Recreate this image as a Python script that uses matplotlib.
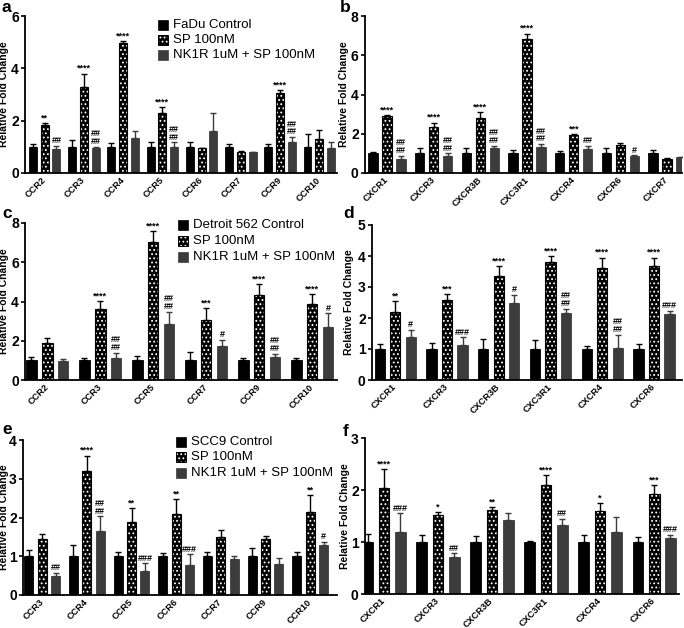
import matplotlib
matplotlib.use("Agg")
import matplotlib.pyplot as plt
import numpy as np

plt.rcParams['font.family'] = ['Liberation Sans', 'DejaVu Sans']
plt.rcParams['font.weight'] = 'bold'
plt.rcParams['hatch.linewidth'] = 0.8

# ---------------- data ----------------
a_cats = ["CCR2", "CCR3", "CCR4", "CCR5", "CCR6", "CCR7", "CCR9", "CCR10"]
a_ctrl = [1.0, 1.0, 1.0, 1.0, 1.0, 1.0, 1.0, 1.0]
a_ctrl_err = [0.10, 0.25, 0.15, 0.17, 0.20, 0.10, 0.12, 0.50]
a_sp = [1.85, 3.30, 4.95, 2.28, 0.95, 0.82, 3.05, 1.30]
a_sp_err = [0.05, 0.50, 0.10, 0.24, 0.02, 0.02, 0.13, 0.35]
a_nk = [0.92, 0.95, 1.35, 1.00, 1.62, 0.80, 1.20, 0.97]
a_nk_err = [0.13, 0.05, 0.27, 0.17, 0.68, 0.01, 0.17, 0.23]
a_sp_sig = ["**", "****", "****", "****", "", "", "****", ""]
a_nk_sig = ["##", "##\n##", "", "##\n##", "", "", "##\n##", ""]

b_cats = ["CXCR1", "CXCR3", "CXCR3B", "CXC3R1", "CXCR4", "CXCR6", "CXCR7"]
b_ctrl = [1.0, 1.0, 1.0, 1.0, 1.0, 1.0, 1.0]
b_ctrl_err = [0.05, 0.28, 0.28, 0.17, 0.10, 0.27, 0.17]
b_sp = [2.88, 2.33, 2.80, 6.85, 1.92, 1.45, 0.73]
b_sp_err = [0.07, 0.24, 0.30, 0.25, 0.05, 0.08, 0.05]
b_nk = [0.70, 0.85, 1.25, 1.30, 1.20, 0.85, 0.82]
b_nk_err = [0.18, 0.15, 0.13, 0.17, 0.18, 0.05, 0.01]
b_sp_sig = ["****", "****", "****", "****", "***", "", ""]
b_nk_sig = ["##\n##", "##\n##", "##\n##", "##\n##", "##", "#", ""]

c_cats = ["CCR2", "CCR3", "CCR5", "CCR7", "CCR9", "CCR10"]
c_ctrl = [1.0, 1.0, 1.0, 1.0, 1.0, 1.0]
c_ctrl_err = [0.17, 0.10, 0.20, 0.42, 0.12, 0.10]
c_sp = [1.88, 3.60, 7.02, 3.07, 4.35, 3.87]
c_sp_err = [0.24, 0.43, 0.58, 0.58, 0.53, 0.51]
c_nk = [0.95, 1.12, 2.85, 1.75, 1.15, 2.72]
c_nk_err = [0.10, 0.25, 0.63, 0.30, 0.20, 0.68]
c_sp_sig = ["", "****", "****", "***", "****", "****"]
c_nk_sig = ["", "##\n##", "##\n##", "#", "##\n##", "#"]

d_cats = ["CXCR1", "CXCR3", "CXCR3B", "CXC3R1", "CXCR4", "CXCR6"]
d_ctrl = [1.0, 1.0, 1.0, 1.0, 1.0, 1.0]
d_ctrl_err = [0.17, 0.18, 0.33, 0.28, 0.10, 0.17]
d_sp = [2.20, 2.58, 3.37, 3.82, 3.62, 3.68]
d_sp_err = [0.35, 0.19, 0.30, 0.18, 0.33, 0.27]
d_nk = [1.38, 1.12, 2.48, 2.17, 1.03, 2.12]
d_nk_err = [0.24, 0.26, 0.27, 0.13, 0.42, 0.10]
d_sp_sig = ["**", "***", "****", "****", "****", "****"]
d_nk_sig = ["#", "###", "#", "##\n##", "##\n##", "###"]

e_cats = ["CCR3", "CCR4", "CCR5", "CCR6", "CCR7", "CCR9", "CCR10"]
e_ctrl = [1.0, 1.0, 1.0, 1.0, 1.0, 1.0, 1.0]
e_ctrl_err = [0.15, 0.28, 0.10, 0.08, 0.10, 0.22, 0.12]
e_sp = [1.45, 3.20, 1.88, 2.10, 1.50, 1.45, 2.13]
e_sp_err = [0.12, 0.40, 0.37, 0.38, 0.17, 0.07, 0.44]
e_nk = [0.50, 1.65, 0.63, 0.78, 0.92, 0.80, 1.28]
e_nk_err = [0.08, 0.38, 0.19, 0.27, 0.08, 0.15, 0.09]
e_sp_sig = ["", "****", "**", "**", "", "", "**"]
e_nk_sig = ["##", "##\n##", "###", "###", "", "", "#"]

f_cats = ["CXCR1", "CXCR3", "CXCR3B", "CXC3R1", "CXCR4", "CXCR6"]
f_ctrl = [1.0, 1.0, 1.0, 1.0, 1.0, 1.0]
f_ctrl_err = [0.15, 0.13, 0.12, 0.02, 0.13, 0.10]
f_sp = [2.03, 1.52, 1.62, 2.10, 1.60, 1.93]
f_sp_err = [0.37, 0.05, 0.05, 0.18, 0.15, 0.17]
f_nk = [1.20, 0.72, 1.43, 1.33, 1.20, 1.08]
f_nk_err = [0.35, 0.06, 0.12, 0.12, 0.28, 0.06]
f_sp_sig = ["****", "*", "**", "****", "*", "***"]
f_nk_sig = ["###", "##", "", "##", "", "###"]

legend_a = ["FaDu Control", "SP 100nM", "NK1R 1uM + SP 100nM"]
legend_c = ["Detroit 562 Control", "SP 100nM", "NK1R 1uM + SP 100nM"]
legend_e = ["SCC9 Control", "SP 100nM", "NK1R 1uM + SP 100nM"]

W, H = 684, 628
fig = plt.figure(figsize=(W / 100, H / 100), dpi=100)


def ax_at(l, r, t, b):
    return fig.add_axes([l / W, 1 - b / H, (r - l) / W, (b - t) / H])


NK_COLOR = "#3c3c3c"
HATCH = "...."


def panel(ax, cats, ctrl, ce, sp, se, nk, ne, ssig, nsig, ymax, ystep, xlim, label_px, axis_left, axis_w):
    n = len(cats)
    x = np.arange(n)
    w = 0.2
    off = 0.3
    ax.bar(x - off, ctrl, w, color="black", edgecolor="black", linewidth=0.6, zorder=2)
    ax.bar(x, sp, w, color="black", edgecolor="white", hatch=HATCH, linewidth=0, zorder=2)
    ax.bar(x, sp, w, fill=False, edgecolor="black", linewidth=0.8, zorder=3)
    ax.bar(x + off, nk, w, color=NK_COLOR, edgecolor=NK_COLOR, linewidth=0.6, zorder=2)
    for xs, ys, es, col in [(x - off, ctrl, ce, "black"), (x, sp, se, "black"), (x + off, nk, ne, NK_COLOR)]:
        ax.errorbar(xs, ys, yerr=[np.zeros(n), es], fmt="none", ecolor=col,
                    elinewidth=1.0, capsize=2.2, capthick=1.0, zorder=1)
    for i in range(n):
        if ssig[i]:
            ax.annotate(ssig[i], (x[i], sp[i] + se[i]), xytext=(0, 0.5), textcoords="offset points",
                        ha="center", va="bottom", fontsize=6.5, fontweight="bold")
        if nsig[i]:
            ax.annotate(nsig[i], (x[i] + off, nk[i] + ne[i]), xytext=(0, 0.5), textcoords="offset points",
                        ha="center", va="bottom", fontsize=6.5, fontweight="bold", linespacing=0.85)
    ax.set_xlim(*xlim)
    ax.set_ylim(0, ymax)
    ticks = np.arange(0, ymax + 0.01, ystep)
    ax.set_yticks(ticks)
    ax.set_yticklabels([str(int(v)) for v in ticks], fontsize=10, fontweight="bold")
    ax.set_xticks(x)
    ax.set_xticklabels(cats, rotation=45, ha="right", va="center", rotation_mode="anchor",
                       fontsize=6.6, fontweight="bold")
    ax.tick_params(axis="x", length=0, pad=4)
    ax.tick_params(axis="y", length=3, width=1.2, pad=1.5)
    for s in ["top", "right"]:
        ax.spines[s].set_visible(False)
    for s in ["left", "bottom"]:
        ax.spines[s].set_linewidth(1.3)
    ax.set_ylabel("Relative Fold Change", fontsize=7.5, fontweight="bold")
    ax.yaxis.set_label_coords((label_px - axis_left) / axis_w, 0.5)


def legend(labels, x0, ys):
    sq = 10
    for lab, y, kind in zip(labels, ys, ["ctrl", "sp", "nk"]):
        xy = (x0 / W, 1 - (y + sq / 2) / H)
        if kind == "ctrl":
            fig.add_artist(plt.Rectangle(xy, sq / W, sq / H, transform=fig.transFigure,
                                         facecolor="black", edgecolor="black", lw=0.5))
        elif kind == "sp":
            fig.add_artist(plt.Rectangle(xy, sq / W, sq / H, transform=fig.transFigure,
                                         facecolor="black", edgecolor="white", hatch=HATCH, lw=0))
            fig.add_artist(plt.Rectangle(xy, sq / W, sq / H, transform=fig.transFigure,
                                         fill=False, edgecolor="black", lw=0.7))
        else:
            fig.add_artist(plt.Rectangle(xy, sq / W, sq / H, transform=fig.transFigure,
                                         facecolor=NK_COLOR, edgecolor=NK_COLOR, lw=0.5))
        fig.text((x0 + 15) / W, 1 - y / H, lab, fontsize=9.5, fontweight="normal", va="center", ha="left")


axa = ax_at(25, 337, 16, 173)
panel(axa, a_cats, a_ctrl, a_ctrl_err, a_sp, a_sp_err, a_nk, a_nk_err, a_sp_sig, a_nk_sig, 6, 2, (-0.5, 7.45), 9, 25, 312)
axb = ax_at(365, 682, 16, 173)
panel(axb, b_cats, b_ctrl, b_ctrl_err, b_sp, b_sp_err, b_nk, b_nk_err, b_sp_sig, b_nk_sig, 8, 2, (-0.47, 6.32), 349, 365, 317)
axc = ax_at(25, 337, 223, 380)
panel(axc, c_cats, c_ctrl, c_ctrl_err, c_sp, c_sp_err, c_nk, c_nk_err, c_sp_sig, c_nk_sig, 8, 2, (-0.42, 5.47), 9, 25, 312)
axd = ax_at(372, 682, 225, 380)
panel(axd, d_cats, d_ctrl, d_ctrl_err, d_sp, d_sp_err, d_nk, d_nk_err, d_sp_sig, d_nk_sig, 5, 1, (-0.45, 5.54), 354, 372, 310)
axe = ax_at(23, 337, 440, 595)
panel(axe, e_cats, e_ctrl, e_ctrl_err, e_sp, e_sp_err, e_nk, e_nk_err, e_sp_sig, e_nk_sig, 4, 1, (-0.43, 6.6), 9, 23, 314)
axf = ax_at(365, 679, 438, 594)
panel(axf, f_cats, f_ctrl, f_ctrl_err, f_sp, f_sp_err, f_nk, f_nk_err, f_sp_sig, f_nk_sig, 3, 1, (-0.35, 5.46), 350, 365, 314)

legend(legend_a, 158, [25, 40, 55])
legend(legend_c, 178, [225, 241, 257])
legend(legend_e, 176, [442, 457, 473])

for lab, px, py in [("a", 1, 8), ("b", 340, 7), ("c", 2, 213), ("d", 343, 214), ("e", 2, 429), ("f", 343, 431)]:
    fig.text(px / W, 1 - py / H, lab, fontsize=12.5, fontweight="bold", va="center", ha="left")

fig.savefig("out.png", dpi=100)
